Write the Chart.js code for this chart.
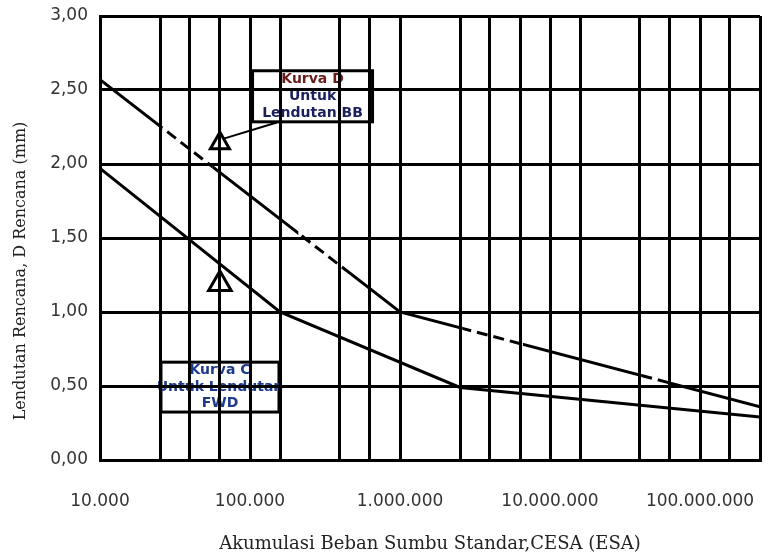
<!DOCTYPE html>
<html>
<head>
<meta charset="utf-8">
<script src="https://cdn.jsdelivr.net/npm/chart.js@4.4.1/dist/chart.umd.min.js"></script>
<style>
  html, body { margin: 0; padding: 0; background: #fff; }
  #wrap { width: 776px; height: 557px; }
</style>
</head>
<body>
<div id="wrap"><canvas id="chart"></canvas></div>
<script>
// Lendutan rencana vs akumulasi beban sumbu standar (CESA)
const xMin = 1e4;
const xMax = Math.pow(10, 8.4);

// garis grid vertikal, dalam eksponen log10 ESA
const gridExps = [4.0, 4.4, 4.6, 4.8, 5.0, 5.2, 5.6, 5.8, 6.0, 6.4, 6.6, 6.8, 7.0, 7.2, 7.6, 7.8, 8.0, 8.2, 8.4];
const xLabelValues = [1e4, 1e5, 1e6, 1e7, 1e8];
const xTickLabels = ['10.000', '100.000', '1.000.000', '10.000.000', '100.000.000'];

// Kurva D - lendutan BB
const curveDEsa = [1e4, 1e6, 2.512e8];
const curveDVal = [2.57, 1.00, 0.36];
const curveDDashed = [[2.6e4, 5.6e4], [2.1e5, 4.3e5], [2.6e6, 6.6e6], [4.1e7, 6.2e7]];

// Kurva C - lendutan FWD
const curveCEsa = [1e4, 1.585e5, 2.512e6, 2.512e8];
const curveCVal = [1.97, 1.00, 0.49, 0.29];

// segitiga dan panah
const markerEsa = [6.3e4, 6.3e4];
const markerVal = [2.14, 1.19];
const arrowEsa = [1.51e5, 6.6e4];
const arrowVal = [2.28, 2.17];

const notes = [
  { x: [1.04e5, 6.56e5], y: [2.285, 2.63], lines: ['Kurva D', 'Untuk', 'Lendutan BB'], colors: ['#6a1b1b', '#1b1f5e', '#1b1f5e'] },
  { x: [2.55e4, 1.56e5], y: [0.324, 0.661], lines: ['Kurva C', 'Untuk Lendutan', 'FWD'], colors: ['#1e3a8a', '#1e3a8a', '#1e3a8a'] }
];

const pts = (xs, ys) => xs.map((x, i) => ({ x, y: ys[i] }));

// kotak keterangan, digambar di bawah grid
const notesPlugin = {
  id: 'notes',
  beforeDraw(chart) {
    const { ctx, scales: { x, y } } = chart;
    ctx.save();
    notes.forEach(n => {
      const x0 = x.getPixelForValue(n.x[0]), x1 = x.getPixelForValue(n.x[1]);
      const y0 = y.getPixelForValue(n.y[1]), y1 = y.getPixelForValue(n.y[0]);
      ctx.lineWidth = 3;
      ctx.strokeStyle = '#000';
      ctx.strokeRect(x0, y0, x1 - x0, y1 - y0);
      ctx.font = 'bold 14px "DejaVu Sans"';
      ctx.textAlign = 'center';
      ctx.textBaseline = 'middle';
      n.lines.forEach((t, i) => {
        ctx.fillStyle = n.colors[i];
        ctx.fillText(t, (x0 + x1) / 2, y0 + (y1 - y0) * (i + 0.5) / n.lines.length);
      });
    });
    ctx.restore();
  },
  afterDraw(chart) {
    const ctx = chart.ctx;
    ctx.save();
    ctx.translate(21, 271);
    ctx.rotate(-Math.PI / 2);
    ctx.font = '16px "DejaVu Serif"';
    ctx.fillStyle = '#222';
    ctx.textAlign = 'center';
    ctx.textBaseline = 'middle';
    ctx.fillText('Lendutan Rencana, D Rencana (mm)', 0, 0);
    ctx.restore();
  }
};

// bagian putus-putus pada kurva D
const dashClip = {
  id: 'dashClip',
  beforeDatasetDraw(chart, args) {
    const ds = chart.data.datasets[args.index];
    if (!ds.dashRanges) return;
    const { ctx, scales: { x } } = chart;
    ctx.save();
    ctx.beginPath();
    let prev = 0;
    ds.dashRanges.forEach(([a, b]) => {
      const p0 = x.getPixelForValue(a), p1 = x.getPixelForValue(b);
      if (ds.dashInside) ctx.rect(p0, 0, p1 - p0, chart.height);
      else ctx.rect(prev, 0, p0 - prev, chart.height);
      prev = p1;
    });
    if (!ds.dashInside) ctx.rect(prev, 0, chart.width - prev, chart.height);
    ctx.clip();
  },
  afterDatasetDraw(chart, args) {
    if (chart.data.datasets[args.index].dashRanges) chart.ctx.restore();
  }
};

new Chart(document.getElementById('chart'), {
  type: 'line',
  data: {
    datasets: [
      { label: 'Kurva D', data: pts(curveDEsa, curveDVal), borderColor: '#000', borderWidth: 3, pointRadius: 0, dashRanges: curveDDashed, dashInside: false },
      { label: 'Kurva D putus', data: pts(curveDEsa, curveDVal), borderColor: '#000', borderWidth: 3, pointRadius: 0, borderDash: [11, 6], dashRanges: curveDDashed, dashInside: true },
      { label: 'Kurva C', data: pts(curveCEsa, curveCVal), borderColor: '#000', borderWidth: 3, pointRadius: 0 },
      { label: 'panah', data: pts(arrowEsa, arrowVal), borderColor: '#000', borderWidth: 2, pointRadius: 0 },
      {
        label: 'segitiga', type: 'scatter', data: pts(markerEsa, markerVal), showLine: false,
        pointStyle: 'triangle', pointRadius: [11, 13], pointBorderWidth: 3,
        pointBorderColor: '#000', pointBackgroundColor: 'rgba(0,0,0,0)'
      }
    ]
  },
  options: {
    responsive: true,
    maintainAspectRatio: false,
    animation: false,
    layout: { padding: { top: 15, right: 15, left: 0, bottom: 0 } },
    plugins: { legend: { display: false }, tooltip: { enabled: false } },
    scales: {
      x: {
        type: 'logarithmic',
        min: xMin,
        max: xMax,
        afterBuildTicks: s => { s.ticks = gridExps.map(e => ({ value: Math.pow(10, e) })); },
        afterFit: s => { s.height = 97; },
        grid: { color: '#000', lineWidth: 3, drawTicks: true, tickLength: 31, tickColor: 'rgba(0,0,0,0)' },
        border: { color: '#000', width: 3 },
        ticks: {
          autoSkip: false, maxRotation: 0, padding: 0, color: '#333',
          font: { family: 'DejaVu Sans', size: 17 },
          callback: v => {
            const i = xLabelValues.findIndex(t => Math.abs(Math.log10(t) - Math.log10(v)) < 1e-6);
            return i < 0 ? '' : xTickLabels[i];
          }
        },
        title: {
          display: true, text: 'Akumulasi Beban Sumbu Standar,CESA (ESA)', color: '#222',
          font: { family: 'DejaVu Serif', size: 18 }, padding: { top: 0, bottom: 2 }
        }
      },
      y: {
        min: 0,
        max: 3,
        afterFit: s => { s.width = 100; },
        grid: { color: '#000', lineWidth: 3, drawTicks: true, tickLength: 12, tickColor: 'rgba(0,0,0,0)' },
        border: { color: '#000', width: 3 },
        ticks: {
          stepSize: 0.5, padding: 0, color: '#333',
          font: { family: 'DejaVu Sans', size: 17 },
          callback: v => v.toFixed(2).replace('.', ',')
        }
      }
    }
  },
  plugins: [notesPlugin, dashClip]
});
</script>
</body>
</html>
